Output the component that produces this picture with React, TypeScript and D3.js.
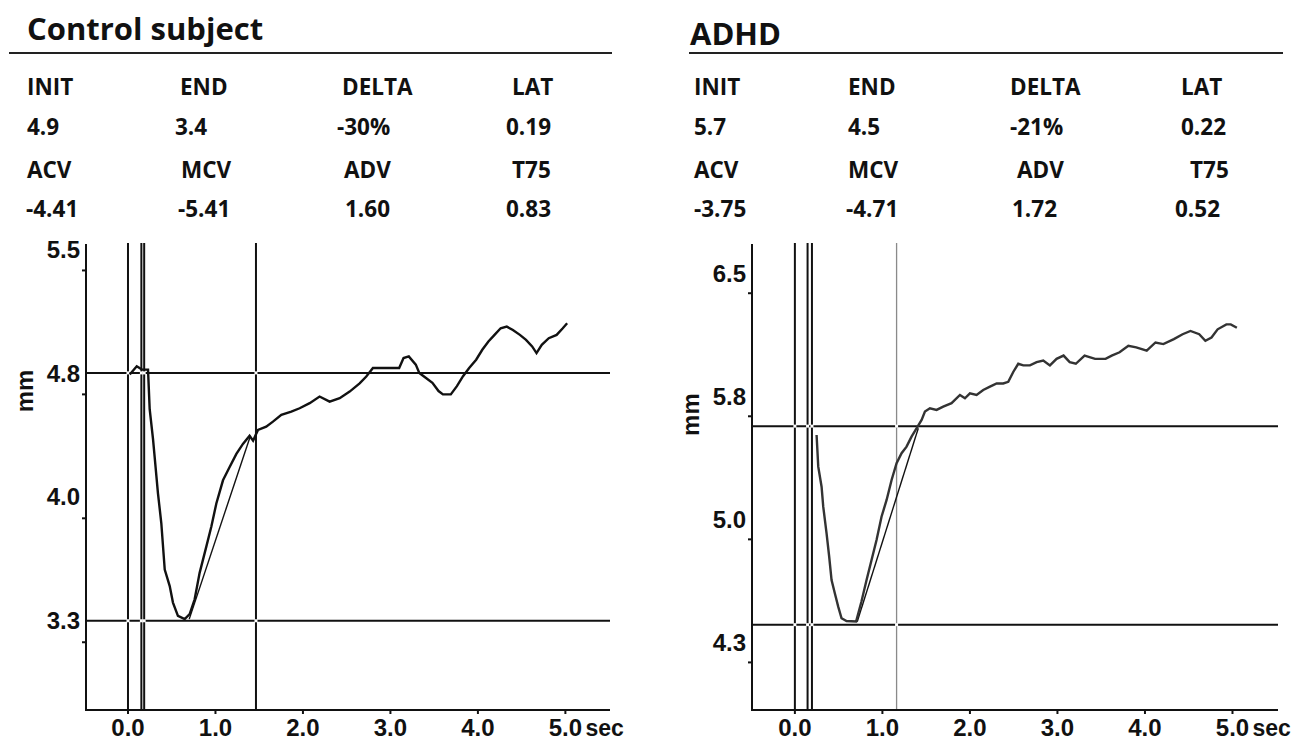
import { useRef, useEffect } from 'react';
import * as d3 from 'd3';

type Pt = [number, number];

// header stats
const statLabelsTop = ['INIT', 'END', 'DELTA', 'LAT'];
const statLabelsBottom = ['ACV', 'MCV', 'ADV', 'T75'];
const controlStatsTop = ['4.9', '3.4', '-30%', '0.19'];
const controlStatsBottom = ['-4.41', '-5.41', '1.60', '0.83'];
const adhdStatsTop = ['5.7', '4.5', '-21%', '0.22'];
const adhdStatsBottom = ['-3.75', '-4.71', '1.72', '0.52'];

// axes
const xTicks = [0, 1, 2, 3, 4, 5];
const controlYTicks = [5.55, 4.8, 4.05, 3.3];
const controlYLabels = ['5.5', '4.8', '4.0', '3.3'];
const controlYMinor = [5.42, 4.67, 3.92, 3.17];
const adhdYTicks = [6.55, 5.8, 5.05, 4.3];
const adhdYLabels = ['6.5', '5.8', '5.0', '4.3'];
const adhdYMinor = [6.43, 5.68, 4.93, 4.18];

// marker lines (sec / mm)
const controlVLines = [0, 0.153, 0.185, 1.463];
const controlHLines = [4.8, 3.3];
const adhdVLines = [0, 0.145, 0.195, 1.162];
const adhdHLines = [5.62, 4.41];

// constriction slope fits
const controlFit: Pt[] = [[0.7, 3.31], [1.4, 4.42]];
const adhdFit: Pt[] = [[0.712, 4.428], [1.41, 5.607]];

// pupil traces (sec, mm)
const controlTrace: Pt[] = [
  [0.02, 4.79], [0.1, 4.84], [0.16, 4.82], [0.229, 4.82], [0.248, 4.58], [0.286, 4.4],
  [0.305, 4.29], [0.343, 4.07], [0.381, 3.89], [0.42, 3.61], [0.477, 3.51], [0.514, 3.41],
  [0.571, 3.33], [0.648, 3.31], [0.705, 3.34], [0.762, 3.43], [0.819, 3.59], [0.896, 3.75],
  [0.953, 3.87], [1.01, 4.01], [1.086, 4.15], [1.162, 4.23], [1.239, 4.31], [1.314, 4.37],
  [1.39, 4.42], [1.43, 4.39], [1.486, 4.455], [1.58, 4.475], [1.657, 4.505], [1.753, 4.546],
  [1.867, 4.566], [1.962, 4.586], [2.077, 4.617], [2.19, 4.657], [2.305, 4.626], [2.42, 4.647],
  [2.534, 4.687], [2.648, 4.737], [2.724, 4.778], [2.8, 4.83], [2.9, 4.83], [3.1, 4.83],
  [3.15, 4.89], [3.21, 4.9], [3.29, 4.85], [3.33, 4.8], [3.38, 4.78], [3.48, 4.74],
  [3.55, 4.69], [3.6, 4.67], [3.69, 4.67], [3.76, 4.72], [3.83, 4.78], [3.9, 4.83],
  [3.98, 4.88], [4.05, 4.94], [4.12, 4.99], [4.19, 5.03], [4.26, 5.07], [4.33, 5.08],
  [4.4, 5.06], [4.48, 5.03], [4.55, 5.0], [4.62, 4.96], [4.67, 4.92], [4.73, 4.97],
  [4.81, 5.01], [4.9, 5.03], [4.97, 5.07], [5.02, 5.1],
];

const adhdTrace: Pt[] = [
  [0.248, 5.566], [0.267, 5.373], [0.305, 5.251], [0.324, 5.129], [0.362, 4.967], [0.392, 4.824],
  [0.419, 4.682], [0.457, 4.6], [0.495, 4.52], [0.533, 4.449], [0.59, 4.432], [0.7, 4.43],
  [0.76, 4.55], [0.819, 4.682], [0.876, 4.804], [0.933, 4.926], [0.99, 5.068], [1.048, 5.17],
  [1.105, 5.292], [1.162, 5.394], [1.219, 5.455], [1.276, 5.495], [1.333, 5.556], [1.39, 5.607],
  [1.448, 5.658], [1.486, 5.709], [1.543, 5.729], [1.619, 5.719], [1.695, 5.739], [1.79, 5.76],
  [1.886, 5.81], [1.943, 5.79], [2.0, 5.82], [2.076, 5.81], [2.152, 5.84], [2.229, 5.861],
  [2.305, 5.88], [2.38, 5.88], [2.438, 5.89], [2.495, 5.95], [2.552, 6.0], [2.61, 5.99],
  [2.686, 5.99], [2.762, 6.01], [2.838, 6.02], [2.914, 5.99], [2.99, 6.03], [3.07, 6.05],
  [3.14, 6.01], [3.21, 6.0], [3.31, 6.05], [3.43, 6.03], [3.55, 6.03], [3.62, 6.05],
  [3.71, 6.07], [3.81, 6.11], [3.9, 6.1], [4.02, 6.08], [4.12, 6.13], [4.21, 6.12],
  [4.33, 6.15], [4.43, 6.18], [4.52, 6.2], [4.62, 6.18], [4.69, 6.14], [4.76, 6.16],
  [4.83, 6.21], [4.93, 6.24], [4.98, 6.24], [5.05, 6.22],
];

const W = 1298;
const H = 743;
const AXIS_TOP = 244;
const AXIS_BOTTOM = 710;
const HEAD_FONT = '"Open Sans", "DejaVu Sans", sans-serif';
const AXIS_FONT = '"Liberation Sans", Arial, sans-serif';

type Panel = {
  title: string;
  titleX: number;
  titleY: number;
  ruleX: [number, number];
  rowX: number[][];
  top: string[];
  bottom: string[];
  xDomain: [number, number];
  xRange: [number, number];
  yDomain: [number, number];
  yTicks: number[];
  yLabels: string[];
  yMinor: number[];
  vLines: number[];
  hLines: number[];
  fit: Pt[];
  trace: Pt[];
  traceColor: string;
  lastVGray: boolean;
};

const panels: Panel[] = [
  {
    title: 'Control subject',
    titleX: 27,
    titleY: 40,
    ruleX: [9, 612],
    rowX: [
      [27, 180, 342, 512],
      [27, 175, 337, 506],
      [27, 181, 344, 512],
      [26, 178, 345, 506],
    ],
    top: controlStatsTop,
    bottom: controlStatsBottom,
    xDomain: [-0.48, 5.51],
    xRange: [86, 610],
    yDomain: [2.76, 5.58],
    yTicks: controlYTicks,
    yLabels: controlYLabels,
    yMinor: controlYMinor,
    vLines: controlVLines,
    hLines: controlHLines,
    fit: controlFit,
    trace: controlTrace,
    traceColor: '#111',
    lastVGray: false,
  },
  {
    title: 'ADHD',
    titleX: 690,
    titleY: 45,
    ruleX: [689, 1283],
    rowX: [
      [694, 848, 1010, 1181],
      [694, 848, 1010, 1181],
      [694, 848, 1017, 1190],
      [694, 846, 1012, 1175],
    ],
    top: adhdStatsTop,
    bottom: adhdStatsBottom,
    xDomain: [-0.49, 5.52],
    xRange: [752, 1278],
    yDomain: [3.89, 6.73],
    yTicks: adhdYTicks,
    yLabels: adhdYLabels,
    yMinor: adhdYMinor,
    vLines: adhdVLines,
    hLines: adhdHLines,
    fit: adhdFit,
    trace: adhdTrace,
    traceColor: '#333',
    lastVGray: true,
  },
];

function drawPanel(svg: d3.Selection<SVGSVGElement, unknown, null, undefined>, p: Panel) {
  const g = svg.append('g');
  const x = d3.scaleLinear().domain(p.xDomain).range(p.xRange);
  const y = d3.scaleLinear().domain(p.yDomain).range([AXIS_BOTTOM, AXIS_TOP]);
  const [x0, x1] = p.xRange;

  // Title + rule
  g.append('text')
    .attr('x', p.titleX)
    .attr('y', p.titleY)
    .attr('font-family', HEAD_FONT)
    .attr('font-size', 31)
    .attr('font-weight', 700)
    .attr('fill', '#111')
    .text(p.title);
  g.append('line')
    .attr('x1', p.ruleX[0])
    .attr('x2', p.ruleX[1])
    .attr('y1', 53)
    .attr('y2', 53)
    .attr('stroke', '#222')
    .attr('stroke-width', 2);

  // Stat table
  const rows = [statLabelsTop, p.top, statLabelsBottom, p.bottom];
  const rowY = [95, 135, 178, 217];
  rows.forEach((row, ri) => {
    row.forEach((txt, ci) => {
      g.append('text')
        .attr('x', p.rowX[ri][ci])
        .attr('y', rowY[ri])
        .attr('font-family', HEAD_FONT)
        .attr('font-size', 22.5)
        .attr('font-weight', 700)
        .attr('fill', '#111')
        .text(txt);
    });
  });

  // Marker lines
  p.hLines.forEach((v) => {
    g.append('line')
      .attr('x1', x0)
      .attr('x2', x1)
      .attr('y1', y(v))
      .attr('y2', y(v))
      .attr('stroke', '#111')
      .attr('stroke-width', 2);
  });
  p.vLines.forEach((t, i) => {
    const gray = p.lastVGray && i === p.vLines.length - 1;
    g.append('line')
      .attr('x1', x(t))
      .attr('x2', x(t))
      .attr('y1', AXIS_TOP - 1)
      .attr('y2', AXIS_BOTTOM)
      .attr('stroke', gray ? '#8a8a8a' : '#111')
      .attr('stroke-width', gray ? 1.3 : 2);
  });
  // crossing gaps
  p.vLines.forEach((t) => {
    p.hLines.forEach((v) => {
      g.append('rect')
        .attr('x', x(t) - 1.5)
        .attr('y', y(v) - 1.5)
        .attr('width', 3)
        .attr('height', 3)
        .attr('fill', '#fff');
    });
  });

  // Fit line
  g.append('line')
    .attr('x1', x(p.fit[0][0]))
    .attr('y1', y(p.fit[0][1]))
    .attr('x2', x(p.fit[1][0]))
    .attr('y2', y(p.fit[1][1]))
    .attr('stroke', '#111')
    .attr('stroke-width', 1.4);

  // Trace
  const line = d3
    .line<Pt>()
    .x((d) => x(d[0]))
    .y((d) => y(d[1]))
    .curve(d3.curveLinear);
  g.append('path')
    .attr('d', line(p.trace))
    .attr('fill', 'none')
    .attr('stroke', p.traceColor)
    .attr('stroke-width', 2.4)
    .attr('stroke-linejoin', 'miter');

  // Axes
  g.append('line')
    .attr('x1', x0)
    .attr('x2', x0)
    .attr('y1', AXIS_TOP)
    .attr('y2', AXIS_BOTTOM + 1)
    .attr('stroke', '#111')
    .attr('stroke-width', 2);
  g.append('line')
    .attr('x1', x0)
    .attr('x2', x1)
    .attr('y1', AXIS_BOTTOM)
    .attr('y2', AXIS_BOTTOM)
    .attr('stroke', '#111')
    .attr('stroke-width', 2);

  p.yMinor.forEach((v) => {
    g.append('line')
      .attr('x1', x0 - 4)
      .attr('x2', x0)
      .attr('y1', y(v))
      .attr('y2', y(v))
      .attr('stroke', '#111')
      .attr('stroke-width', 2);
  });
  p.yTicks.forEach((v, i) => {
    g.append('text')
      .attr('x', x0 - 6)
      .attr('y', y(v))
      .attr('dy', '0.36em')
      .attr('text-anchor', 'end')
      .attr('font-family', AXIS_FONT)
      .attr('font-size', 24)
      .attr('font-weight', 700)
      .attr('fill', '#111')
      .text(p.yLabels[i]);
  });
  g.append('text')
    .attr('transform', `translate(${x0 - 53},${y(p.yTicks[1]) + 18}) rotate(-90)`)
    .attr('text-anchor', 'middle')
    .attr('font-family', AXIS_FONT)
    .attr('font-size', 24)
    .attr('font-weight', 700)
    .attr('fill', '#111')
    .text('mm');

  xTicks.forEach((t) => {
    g.append('line')
      .attr('x1', x(t))
      .attr('x2', x(t))
      .attr('y1', AXIS_BOTTOM)
      .attr('y2', AXIS_BOTTOM + 4)
      .attr('stroke', '#111')
      .attr('stroke-width', 2);
    g.append('text')
      .attr('x', x(t))
      .attr('y', 736)
      .attr('text-anchor', 'middle')
      .attr('font-family', AXIS_FONT)
      .attr('font-size', 24)
      .attr('font-weight', 700)
      .attr('fill', '#111')
      .text(t.toFixed(1));
  });
  g.append('text')
    .attr('x', x(xTicks[xTicks.length - 1]) + 20)
    .attr('y', 736)
    .attr('font-family', AXIS_FONT)
    .attr('font-size', 23)
    .attr('font-weight', 700)
    .attr('fill', '#111')
    .text('sec');
}

export default function App() {
  const svgRef = useRef<SVGSVGElement>(null);

  useEffect(() => {
    document.body.style.margin = '0';
    const svg = d3.select(svgRef.current!);
    svg.selectAll('*').remove();
    svg.append('rect').attr('width', W).attr('height', H).attr('fill', '#fff');
    panels.forEach((p) => drawPanel(svg, p));
  }, []);

  return (
    <svg
      ref={svgRef}
      width={W}
      height={H}
      style={{ position: 'absolute', left: 0, top: 0, display: 'block' }}
    />
  );
}
